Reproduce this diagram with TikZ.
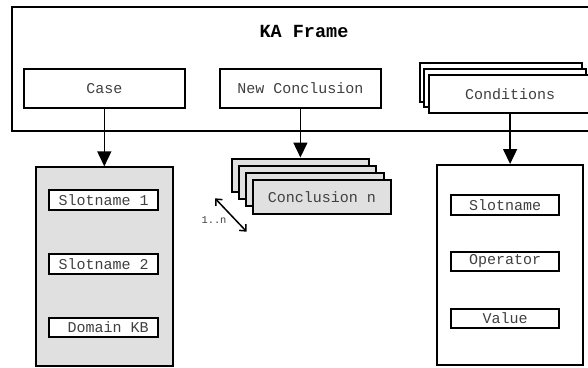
\documentclass[tikz,border=0pt]{standalone}
\usepackage{fontspec}
\setmonofont{Liberation Mono}
\usetikzlibrary{arrows.meta}
\definecolor{boxgray}{HTML}{E0E0E0}
\begin{document}
\begin{tikzpicture}[x=1pt,y=-1pt,
    box/.style={draw,line width=2pt,fill=white,inner sep=0pt,font=\fontsize{15}{18}\ttfamily,text=black!75},
    slot/.style={box,minimum width=108.6pt,minimum height=19.6pt},
    arr/.style={line width=1.5pt,-{Triangle[width=14pt,length=15pt]}},
    barb/.style={line width=1.5pt,{Straight Barb[length=5pt,width=9pt]}-{Straight Barb[length=5pt,width=9pt]}}]
       \useasboundingbox (0,0) rectangle (588,367);
       % frame with its three slots
       \node[draw,line width=1.8pt,minimum width=580.3pt,minimum height=124pt] (frame) at (301.85,68.7) {};
       \node[font=\fontsize{18.5}{22}\ttfamily\bfseries] (title) at (304,31) {KA Frame};
       \node[box,minimum width=161.6pt,minimum height=38.4pt] (case) at (104.3,88.5) {Case};
       \node[box,minimum width=161.3pt,minimum height=38.4pt] (newconc) at (300.4,88.5) {New Conclusion};
       \foreach \i/\t in {1/,2/,3/Conditions}{
          \node[box,minimum width=162pt,minimum height=38.3pt] (cond\i) at ({495.7+4.8*\i},{82.4+5.9*(\i-1)}) {\t};}

       % case slots
       \node[box,fill=boxgray,minimum width=137pt,minimum height=198.7pt] (caseslots) at (104.3,266.7) {};
       \node[slot] (slot1) at (103.7,200) {Slotname 1};
       \node[slot] (slot2) at (103.7,264) {Slotname 2};
       \node[slot] (domkb) at (103.7,327.5) {\ Domain KB};

       % conclusions
       \foreach \i/\t in {1/,2/,3/,4/Conclusion n}{
          \node[box,fill=boxgray,minimum width=137.4pt,minimum height=33.4pt] (conc\i) at ({293.2+7.2*\i},{175.2+7.2*(\i-1)}) {\t};}
       \coordinate (na) at (215,198.3);
       \coordinate (nb) at (246.7,231.7);
       \draw[barb] (na) -- (nb);
       \node[font=\fontsize{10.4}{12}\ttfamily,text=black!75] (mult) at (214,220) {1..n};

       % condition slots
       \node[box,minimum width=146pt,minimum height=200pt] (condslots) at (509.7,265) {};
       \node[slot] (sname) at (505,204.7) {Slotname};
       \node[slot] (oper) at (505,261.5) {Operator};
       \node[slot] (val) at (505,318.5) {Value};

       \draw[arr] (case.south) -- (caseslots.north);
       \draw[arr] (newconc.south) -- (conc1.north);
       \draw[arr] (cond3.south) -- (cond3.south |- condslots.north);
\end{tikzpicture}
\end{document}
